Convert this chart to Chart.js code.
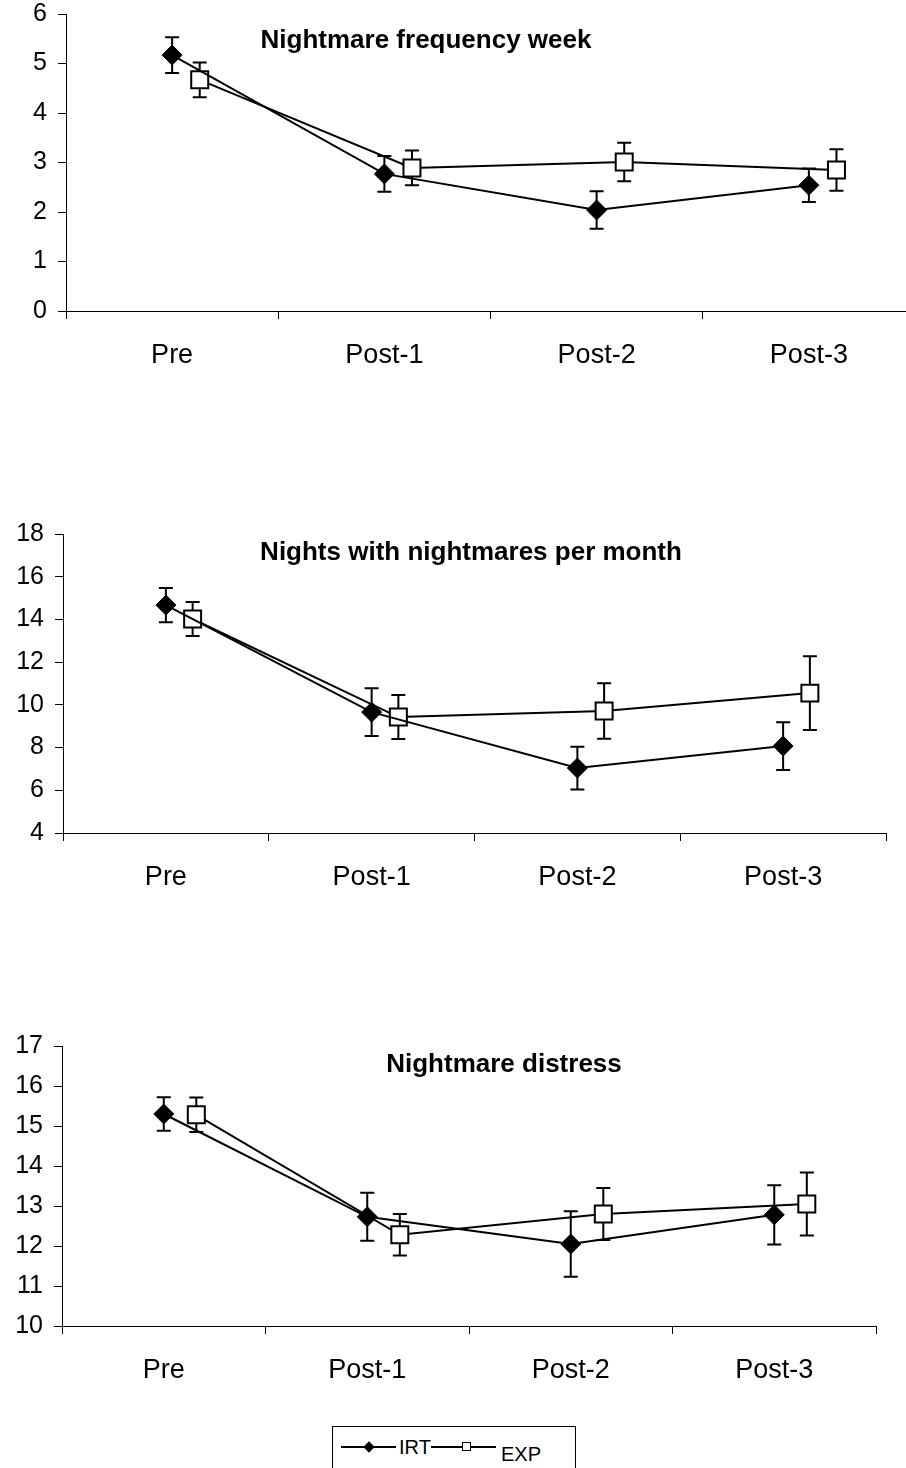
<!DOCTYPE html>
<html>
<head>
<meta charset="utf-8">
<script src="https://cdn.jsdelivr.net/npm/chart.js@4.4.1/dist/chart.umd.min.js"></script>
<style>
  html, body { margin: 0; padding: 0; background: #fff; overflow: hidden; }
  body { width: 906px; height: 1468px; position: relative; font-family: 'Liberation Sans', Arial, sans-serif; }
  canvas { position: absolute; left: 0; }
  #legend { position: absolute; left: 332px; top: 1426px; width: 242px; height: 60px; border: 1px solid #000; }
  #legend .ln { position: absolute; height: 2px; background: #000; top: 19px; }
  #legend .dia { position: absolute; width: 8px; height: 8px; background: #000; transform: rotate(45deg); top: 16px; }
  #legend .sq { position: absolute; width: 7px; height: 7px; background: #fff; border: 1px solid #000; top: 15px; }
  #legend .txt { position: absolute; font-size: 20px; line-height: 20px; color: #000; }
</style>
</head>
<body>
<canvas id="chart-freq" width="935" height="420" style="top:-20px"></canvas>
<canvas id="chart-nights" width="906" height="420" style="top:480px"></canvas>
<canvas id="chart-distress" width="906" height="420" style="top:990px"></canvas>
<div id="legend">
  <span class="ln" style="left:8px;width:55px"></span>
  <span class="dia" style="left:32px"></span>
  <span class="txt" style="left:66px;top:10px">IRT</span>
  <span class="ln" style="left:98px;width:65px"></span>
  <span class="sq" style="left:129px"></span>
  <span class="txt" style="left:168px;top:17px">EXP</span>
</div>
<script>
// Nightmare outcomes, IRT vs EXP, means with error bars

const categories = ['Pre', 'Post-1', 'Post-2', 'Post-3'];

// Nightmare frequency week
const irtFreqWeek = [5.17, 2.77, 2.04, 2.54];
const irtFreqWeekErr = [0.36, 0.36, 0.38, 0.34];
const expFreqWeek = [4.67, 2.89, 3.01, 2.85];
const expFreqWeekErr = [0.35, 0.35, 0.39, 0.42];

// Nights with nightmares per month
const irtNights = [14.67, 9.66, 7.04, 8.07];
const irtNightsErr = [0.80, 1.12, 1.00, 1.12];
const expNights = [14.02, 9.43, 9.71, 10.55];
const expNightsErr = [0.80, 1.03, 1.30, 1.73];

// Nightmare distress
const irtDistress = [15.30, 12.73, 12.05, 12.78];
const irtDistressErr = [0.42, 0.60, 0.82, 0.74];
const expDistress = [15.28, 12.28, 12.80, 13.05];
const expDistressErr = [0.43, 0.52, 0.65, 0.79];

const family = "'Liberation Sans', Arial, sans-serif";

const errorBars = {
    id: 'errorBars',
    beforeDatasetsDraw(chart) {
        const { ctx, scales: { x, y } } = chart;
        ctx.save();
        ctx.strokeStyle = '#000';
        ctx.lineWidth = 2;
        chart.data.datasets.forEach(ds => {
            ds.data.forEach((p, i) => {
                const px = x.getPixelForValue(p.x);
                const top = y.getPixelForValue(p.y + ds.errors[i]);
                const bot = y.getPixelForValue(p.y - ds.errors[i]);
                ctx.beginPath();
                ctx.moveTo(px, top); ctx.lineTo(px, bot);
                ctx.moveTo(px - 7, top); ctx.lineTo(px + 7, top);
                ctx.moveTo(px - 7, bot); ctx.lineTo(px + 7, bot);
                ctx.stroke();
            });
        });
        ctx.restore();
    }
};

const panelTitle = {
    id: 'panelTitle',
    afterDraw(chart, args, opts) {
        const ctx = chart.ctx;
        ctx.save();
        ctx.font = 'bold 26px ' + family;
        ctx.fillStyle = '#000';
        ctx.textAlign = 'center';
        ctx.textBaseline = 'alphabetic';
        ctx.fillText(opts.text, opts.x, opts.y);
        ctx.restore();
    }
};

// ticks at category borders (integers) and label slots at centres (x.5)
const xTickValues = categories.flatMap((c, i) => [i, i + 0.5]).concat(categories.length);

function makeChart(id, cfg) {
    const canvas = document.getElementById(id);
    const W = canvas.width, H = canvas.height, a = cfg.area;
    return new Chart(canvas, {
        type: 'line',
        data: {
            datasets: [
                {
                    label: 'IRT',
                    data: cfg.irt.map((v, i) => ({ x: i + 0.5, y: v })),
                    errors: cfg.irtErr,
                    borderColor: '#000', borderWidth: 2,
                    pointStyle: 'rectRot', pointRadius: 10,
                    pointBackgroundColor: '#000', pointBorderColor: '#000', pointBorderWidth: 1
                },
                {
                    label: 'EXP',
                    data: cfg.exp.map((v, i) => ({ x: i + 0.5 + cfg.dodge, y: v })),
                    errors: cfg.expErr,
                    borderColor: '#000', borderWidth: 2,
                    pointStyle: 'rect', pointRadius: 12,
                    pointBackgroundColor: '#fff', pointBorderColor: '#000', pointBorderWidth: 2
                }
            ]
        },
        options: {
            responsive: false,
            animation: false,
            events: [],
            layout: { padding: { top: a.top, right: W - a.right, left: 0, bottom: 0 } },
            plugins: {
                legend: { display: false },
                tooltip: { enabled: false },
                panelTitle: cfg.title
            },
            scales: {
                x: {
                    type: 'linear', min: 0, max: categories.length,
                    afterBuildTicks: s => { s.ticks = xTickValues.map(v => ({ value: v })); },
                    afterFit: s => { s.height = H - a.bottom; },
                    ticks: {
                        autoSkip: false, maxRotation: 0, padding: 20, color: '#000',
                        font: { size: 27, family },
                        callback: v => Number.isInteger(v) ? '' : categories[Math.floor(v)]
                    },
                    grid: {
                        drawOnChartArea: false, tickLength: 8, tickWidth: 1,
                        tickColor: c => Number.isInteger(c.tick.value) ? '#000' : 'rgba(0,0,0,0)'
                    },
                    border: { color: '#000', width: 1 }
                },
                y: {
                    min: cfg.yMin, max: cfg.yMax,
                    afterFit: s => { s.width = a.left; },
                    ticks: { stepSize: cfg.yStep, padding: 11, color: '#000', font: { size: 25, family, lineHeight: 1 } },
                    grid: { drawOnChartArea: false, tickLength: 8, tickColor: '#000', tickWidth: 1 },
                    border: { color: '#000', width: 1 }
                }
            }
        },
        plugins: [errorBars, panelTitle]
    });
}

makeChart('chart-freq', {
    irt: irtFreqWeek, irtErr: irtFreqWeekErr, exp: expFreqWeek, expErr: expFreqWeekErr,
    yMin: 0, yMax: 6, yStep: 1, dodge: 0.13,
    area: { left: 66, top: 34, right: 917, bottom: 331 },
    title: { text: 'Nightmare frequency week', x: 426, y: 68 }
});

makeChart('chart-nights', {
    irt: irtNights, irtErr: irtNightsErr, exp: expNights, expErr: expNightsErr,
    yMin: 4, yMax: 18, yStep: 2, dodge: 0.13,
    area: { left: 63, top: 54, right: 892, bottom: 353 },
    title: { text: 'Nights with nightmares per month', x: 471, y: 80 }
});

makeChart('chart-distress', {
    irt: irtDistress, irtErr: irtDistressErr, exp: expDistress, expErr: expDistressErr,
    yMin: 10, yMax: 17, yStep: 1, dodge: 0.16,
    area: { left: 62, top: 56, right: 876, bottom: 336 },
    title: { text: 'Nightmare distress', x: 504, y: 82 }
});
</script>
</body>
</html>
